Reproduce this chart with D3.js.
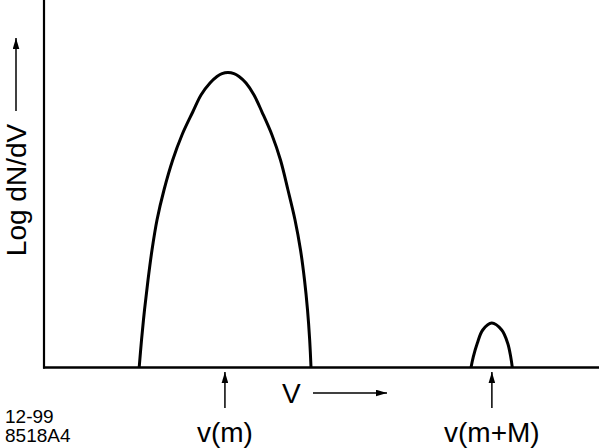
<!DOCTYPE html>
<html>
<head>
<meta charset="utf-8">
<script src="https://cdn.jsdelivr.net/npm/d3@7"></script>
<style>
  body { margin: 0; background: #fff; }
  text { font-family: "Liberation Sans", Arial, Helvetica, sans-serif; fill: #000; }
</style>
</head>
<body>
<svg id="chart" width="599" height="448"></svg>
<script>
// Main peak (single-particle velocities) and small peak (v(m+M))
var bigV    = [1.715, 1.757, 1.811, 1.874, 1.946, 2.036, 2.162, 2.319, 2.486, 2.680, 2.829, 2.991, 3.117, 3.207, 3.315,
               3.423, 3.514, 3.640, 3.784, 3.928, 4.108, 4.261, 4.396, 4.523, 4.622, 4.694, 4.748, 4.787, 4.811];
var bigLogN = [0,     0.748, 1.565, 2.381, 3.197, 4.014, 4.830, 5.646, 6.327, 6.952, 7.415, 7.741, 7.918, 7.996, 8.027,
               7.996, 7.918, 7.741, 7.415, 6.952, 6.327, 5.646, 4.830, 4.014, 3.197, 2.381, 1.565, 0.748, 0];

var smallV    = [7.694, 7.735, 7.807, 7.905, 8.067, 8.247, 8.355, 8.409, 8.438];
var smallLogN = [0,     0.29,  0.66,  1.02,  1.21,  1.02,  0.66,  0.29,  0];

var markV      = [3.26, 8.07];
var markLabels = ['v(m)', 'v(m+M)'];

var WIDTH = 599, HEIGHT = 448;
var X0 = 44, Y0 = 367.5;

var svg = d3.select('#chart');

var x = d3.scaleLinear().domain([0, 10]).range([X0, WIDTH]);
var y = d3.scaleLinear().domain([0, 10]).range([Y0, 0]);

// arrowhead marker
svg.append('defs').append('marker')
    .attr('id', 'head')
    .attr('viewBox', '0 0 10 6')
    .attr('refX', 10).attr('refY', 3)
    .attr('markerUnits', 'userSpaceOnUse')
    .attr('markerWidth', 11).attr('markerHeight', 7)
    .attr('orient', 'auto')
  .append('path')
    .attr('d', 'M0,0 L10,3 L0,6 Z')
    .attr('fill', '#000');

// axes (plain lines, no ticks)
svg.append('line')
    .attr('x1', x(0)).attr('x2', x(0))
    .attr('y1', y(10)).attr('y2', y(0) + 1)
    .attr('stroke', '#000').attr('stroke-width', 2.2);
svg.append('line')
    .attr('x1', x(0) - 1).attr('x2', x(10))
    .attr('y1', y(0)).attr('y2', y(0))
    .attr('stroke', '#000').attr('stroke-width', 2.4);

var line = d3.line()
    .x(d => x(d[0]))
    .y(d => y(d[1]))
    .curve(d3.curveCatmullRom.alpha(0.5));

[[bigV, bigLogN], [smallV, smallLogN]].forEach(([vs, ns]) => {
    svg.append('path')
        .attr('d', line(d3.zip(vs, ns)))
        .attr('fill', 'none')
        .attr('stroke', '#000')
        .attr('stroke-width', 3);
});

// marker arrows under the peaks
markV.forEach((v, i) => {
    svg.append('line')
        .attr('x1', x(v)).attr('x2', x(v))
        .attr('y1', 408).attr('y2', 372)
        .attr('stroke', '#000').attr('stroke-width', 1.5)
        .attr('marker-end', 'url(#head)');
    svg.append('text')
        .attr('x', x(v)).attr('y', 442)
        .attr('text-anchor', 'middle')
        .style('font-size', '28px')
        .text(markLabels[i]);
});

// x label
svg.append('text')
    .attr('x', 282).attr('y', 403)
    .style('font-size', '28px')
    .text('V');
svg.append('line')
    .attr('x1', 313).attr('x2', 387)
    .attr('y1', 393).attr('y2', 393)
    .attr('stroke', '#000').attr('stroke-width', 1.5)
    .attr('marker-end', 'url(#head)');

// y label
svg.append('text')
    .attr('transform', 'translate(26,190) rotate(-90)')
    .attr('text-anchor', 'middle')
    .style('font-size', '28px')
    .text('Log dN/dV');
svg.append('line')
    .attr('x1', 16).attr('x2', 16)
    .attr('y1', 111).attr('y2', 38)
    .attr('stroke', '#000').attr('stroke-width', 1.5)
    .attr('marker-end', 'url(#head)');

// figure id
svg.append('text').attr('x', 5).attr('y', 423)
    .style('font-size', '19px').text('12-99');
svg.append('text').attr('x', 5).attr('y', 442)
    .style('font-size', '19px').text('8518A4');
</script>
</body>
</html>
